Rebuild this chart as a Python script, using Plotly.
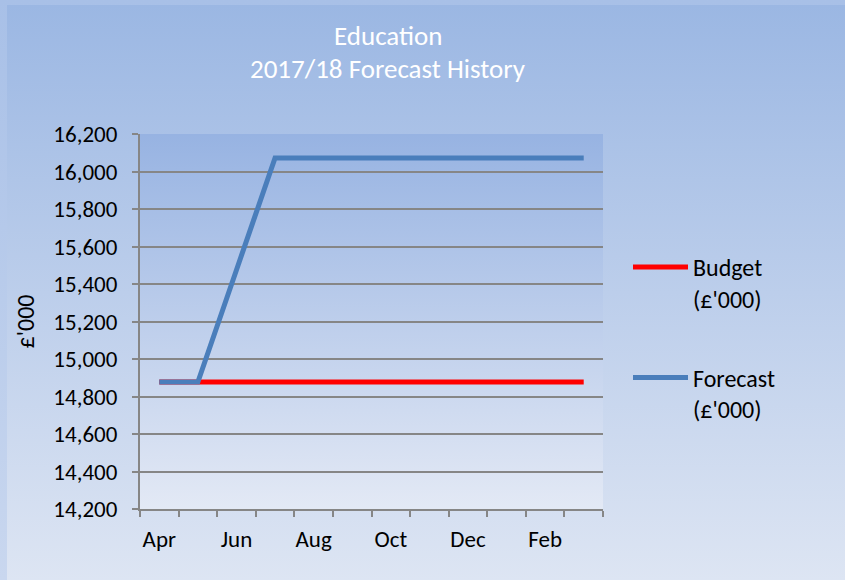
import base64
import plotly.graph_objects as go

months = ["Apr", "May", "Jun", "Jul", "Aug", "Sep", "Oct", "Nov", "Dec", "Jan", "Feb", "Mar"]
tick_labels = ["Apr", "", "Jun", "", "Aug", "", "Oct", "", "Dec", "", "Feb", ""]
budget = [14877, 14877, 14877, 14877, 14877, 14877, 14877, 14877, 14877, 14877, 14877, 14877]
forecast = [14877, 14877, 15475, 16072, 16072, 16072, 16072, 16072, 16072, 16072, 16072, 16072]

W, H = 845, 580
L, R, T, B = 140, 242, 134, 71
PW, PH = W - L - R, H - T - B
FONT = "Carlito, Lato, 'Liberation Sans', sans-serif"


def svg_uri(svg):
    return "data:image/svg+xml;base64," + base64.b64encode(svg.encode()).decode()


bg_svg = f"""<svg xmlns='http://www.w3.org/2000/svg' width='{W}' height='{H}' viewBox='0 0 {W} {H}' preserveAspectRatio='none'>
<defs>
<linearGradient id='f' x1='0' y1='0' x2='0' y2='1'><stop offset='0' stop-color='#A8C0E7'/><stop offset='1' stop-color='#C9D7EF'/></linearGradient>
<linearGradient id='g' x1='0' y1='0' x2='0' y2='1'><stop offset='0' stop-color='#9BB7E3'/><stop offset='1' stop-color='#DDE5F3'/></linearGradient>
</defs>
<rect x='0' y='0' width='{W}' height='{H}' fill='url(#f)'/>
<rect x='7' y='5' width='{W-7}' height='{H-5}' fill='url(#g)'/>
</svg>"""

plot_svg = """<svg xmlns='http://www.w3.org/2000/svg' width='100' height='100' viewBox='0 0 100 100' preserveAspectRatio='none'>
<defs><linearGradient id='p' x1='0' y1='0' x2='0' y2='1'><stop offset='0' stop-color='#97B3E2'/><stop offset='1' stop-color='#E3E9F5'/></linearGradient></defs>
<rect x='0' y='0' width='100' height='100' fill='url(#p)'/>
</svg>"""

fig = go.Figure()
fig.add_trace(go.Scatter(x=months, y=budget, mode="lines", name="Budget<br>(£'000)",
                         line=dict(color="#FF0000", width=5), legendgroup="b"))
fig.add_trace(go.Scatter(x=months, y=forecast, mode="lines", name="Forecast<br>(£'000)",
                         line=dict(color="#4A7EBB", width=5), legendgroup="f"))

fig.update_layout(
    width=W, height=H,
    margin=dict(l=L, r=R, t=T, b=B),
    paper_bgcolor="#B5C9EA",
    plot_bgcolor="rgba(0,0,0,0)",
    font=dict(family=FONT, size=23, color="#000000"),
    showlegend=True,
    legend=dict(x=(628 - L) / PW, xanchor="left", y=1 - (245 - T) / PH, yanchor="top",
                bgcolor="rgba(0,0,0,0)", font=dict(size=24), valign="top",
                tracegroupgap=45, itemwidth=55),
    images=[
        dict(source=svg_uri(bg_svg), xref="paper", yref="paper",
             x=-L / PW, y=1 + T / PH, sizex=W / PW, sizey=H / PH,
             xanchor="left", yanchor="top", sizing="stretch", layer="below"),
        dict(source=svg_uri(plot_svg), xref="paper", yref="paper",
             x=0, y=1, sizex=1, sizey=1,
             xanchor="left", yanchor="top", sizing="stretch", layer="below"),
    ],
    annotations=[
        dict(text="Education", xref="paper", yref="paper",
             x=(388 - L) / PW, y=1 + (T - 35) / PH, xanchor="center", yanchor="middle",
             showarrow=False, font=dict(size=27, color="#FFFFFF")),
        dict(text="2017/18 Forecast History", xref="paper", yref="paper",
             x=(388 - L) / PW, y=1 + (T - 68) / PH, xanchor="center", yanchor="middle",
             showarrow=False, font=dict(size=27, color="#FFFFFF")),
    ],
)

fig.update_xaxes(
    type="category", tickvals=months, ticktext=tick_labels, tickson="boundaries",
    ticks="outside", ticklen=6, tickwidth=2, tickcolor="#868686", tickangle=0,
    showline=True, linecolor="#868686", linewidth=2, showgrid=False,
    range=[-0.5, 11.5], tickfont=dict(size=23), ticklabelstandoff=8,
)
fig.update_yaxes(
    range=[14200, 16200], tick0=14200, dtick=200, tickformat=",d",
    ticks="outside", ticklen=6, tickwidth=2, tickcolor="#868686",
    showline=True, linecolor="#868686", linewidth=2,
    showgrid=True, gridcolor="#868686", gridwidth=2, zeroline=False,
    tickfont=dict(size=23), ticklabelstandoff=10,
    title=dict(text="£'000", font=dict(size=24), standoff=12),
)

fig.write_html("out.html", config={"displayModeBar": False},
               post_script="document.body.style.margin='0';document.body.style.overflow='hidden';")
